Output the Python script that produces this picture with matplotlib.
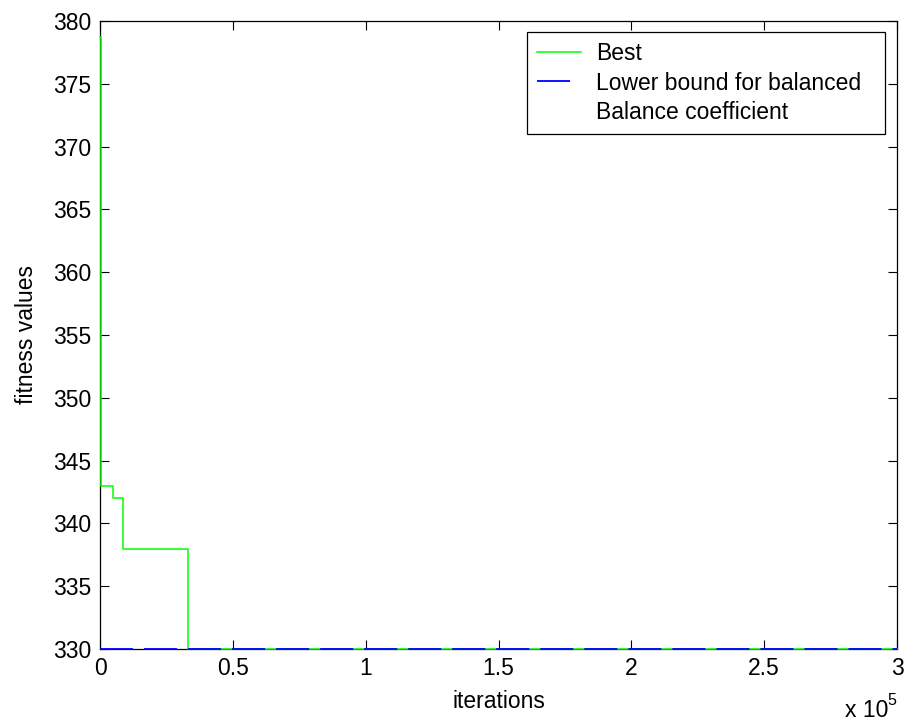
import matplotlib
matplotlib.use("Agg")
import matplotlib.pyplot as plt

plt.rcParams['font.family'] = ['Liberation Sans', 'DejaVu Sans']
plt.rcParams['lines.scale_dashes'] = False

# Data
best_x = [0, 200, 400, 5000, 8500, 33000, 300000]
best_y = [378.7, 345, 343, 342, 338, 330, 330]
lower_x = [0, 300000]
lower_y = [330, 330]
xtick_vals = [0, 50000, 100000, 150000, 200000, 250000, 300000]
xtick_labels = ['0', '0.5', '1', '1.5', '2', '2.5', '3']
ytick_vals = [330, 335, 340, 345, 350, 355, 360, 365, 370, 375, 380]

fs = 16.5
fig = plt.figure(figsize=(9.05, 7.27), dpi=100)
ax = fig.add_axes([100/905, 1-649/727, 797/905, 628/727])

ax.plot(best_x, best_y, drawstyle='steps-post', color='#00ff00', lw=1.1,
        zorder=2.6, clip_on=False, label='Best')
ax.plot(lower_x, lower_y, color='#0000ff', lw=1.3, zorder=3, clip_on=False,
        dashes=(23.8, 7.9), label='Lower bound for balanced')
ax.plot([], [], color='white', lw=1.1, label='Balance coefficient')

ax.set_xlim(0, 300000)
ax.set_ylim(330, 380)
ax.set_xticks(xtick_vals)
ax.set_xticklabels(xtick_labels)
ax.set_yticks(ytick_vals)
ax.tick_params(direction='in', top=True, right=True, length=6.5, width=0.8,
               labelsize=fs, pad=6, colors='black')
for s in ax.spines.values():
    s.set_linewidth(0.9)
    s.set_color('black')

ax.set_xlabel('iterations', fontsize=fs, labelpad=7)
ax.set_ylabel('fitness values', fontsize=fs, labelpad=11)

fig.text(845/905, 1-722/727, 'x 10', fontsize=fs, ha='left', va='bottom')
fig.text(887/905, 1-708/727, '5', fontsize=fs*0.7, ha='left', va='bottom')

x0, x1 = 527/905, 885/905
ytop = 1-32/727
leg = ax.legend(loc='upper left', bbox_to_anchor=(x0, ytop - 0.2, x1 - x0, 0.2),
                bbox_transform=fig.transFigure, mode='expand', fontsize=fs,
                frameon=True, fancybox=False, framealpha=1, edgecolor='black',
                borderaxespad=0, borderpad=0.45, handlelength=1.9,
                handletextpad=0.65, labelspacing=0.27)
leg.get_frame().set_linewidth(0.9)

fig.savefig('out.png', dpi=100)
